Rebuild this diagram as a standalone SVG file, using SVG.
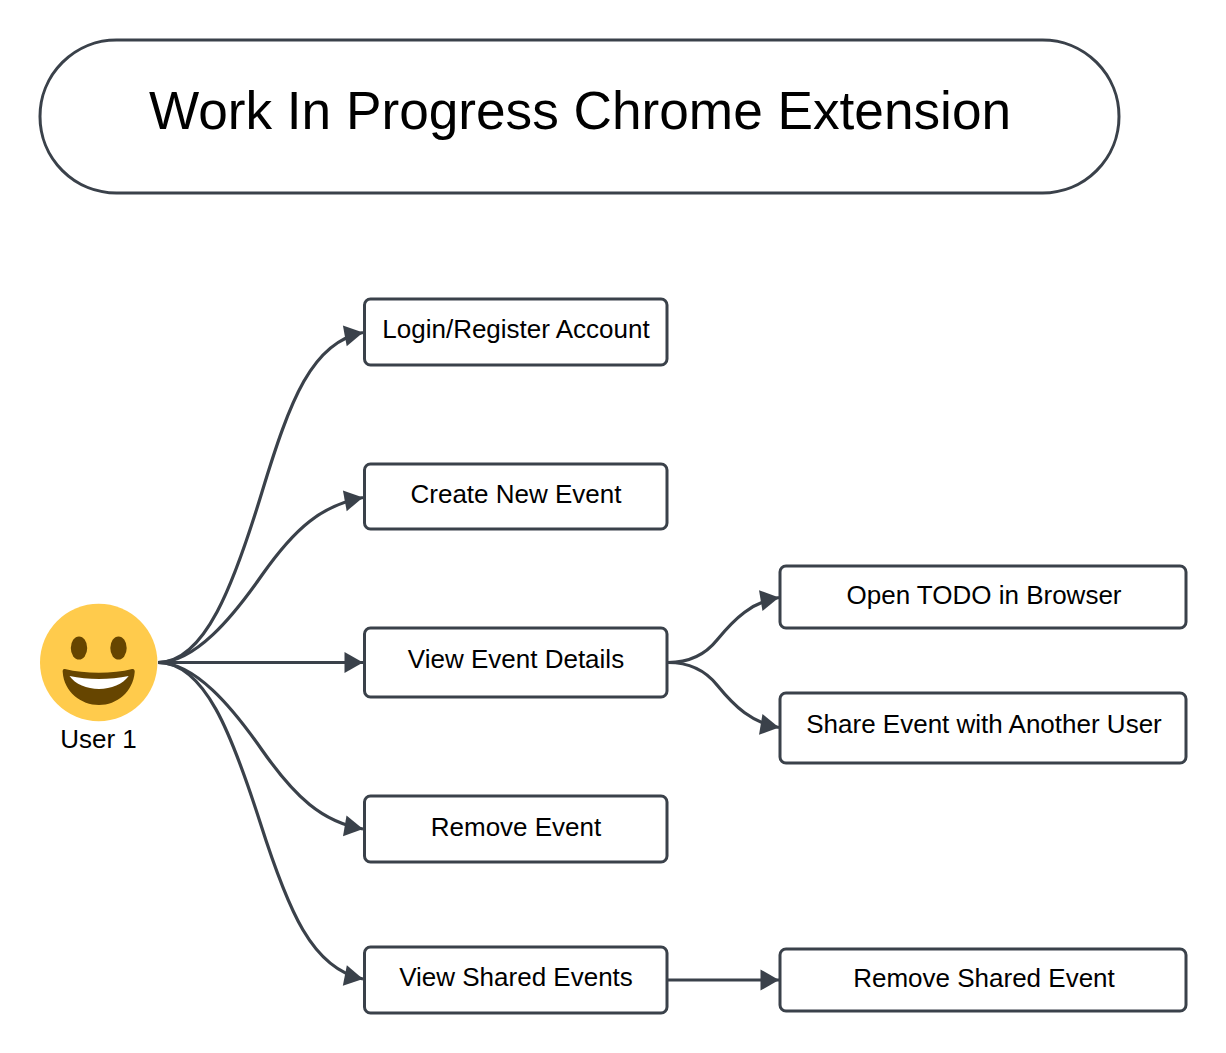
<svg xmlns="http://www.w3.org/2000/svg" width="1226" height="1053" viewBox="0 0 1226 1053">
<style>
text{font-family:"Liberation Sans",Arial,sans-serif;fill:#000;text-anchor:middle}
.n{font-size:26px}
.b{fill:#fff;stroke:#3a414a;stroke-width:3}
.c{fill:none;stroke:#3a414a;stroke-width:3.200}
</style>
<defs><marker id="a" markerUnits="userSpaceOnUse" markerWidth="24" markerHeight="24" refX="19" refY="12" orient="auto"><path d="M0.500 1.500L19 12L0.500 22.500Z" fill="#3a414a"/></marker></defs>
<rect width="1226" height="1053" fill="#fff"/>
<g id="title"><rect class="b" x="40" y="40" width="1079" height="153" rx="76.500"/><text x="580" y="129" font-size="53.200">Work In Progress Chrome Extension</text></g>
<g id="connectors">
<path class="c" marker-end="url(#a)" d="M158 662.500C205 662.500 234 584 262 492C290 400 312 342 363 332.500"/>
<path class="c" marker-end="url(#a)" d="M158 662.500C195 662.500 232 618 262 575C295 528 322 505 363 497.500"/>
<path class="c" marker-end="url(#a)" d="M158 662.500H363"/>
<path class="c" marker-end="url(#a)" d="M158 662.500C195 662.500 232 707 262 750C295 797 322 822 363 829"/>
<path class="c" marker-end="url(#a)" d="M158 662.500C205 662.500 232 735 260 822C288 910 312 969 363 979"/>
<path class="c" marker-end="url(#a)" d="M668 662.500C690 662.500 705 655 717 640C735 618 752 602 779 597.500"/>
<path class="c" marker-end="url(#a)" d="M668 662.500C690 662.500 705 670 717 685C735 707 752 723 779 727.500"/>
<path class="c" marker-end="url(#a)" d="M668 980H779"/>
</g>
<g id="user"><circle cx="98.700" cy="662.500" r="58.700" fill="#ffcb4c"/><ellipse cx="79" cy="648" rx="8.200" ry="11.500" fill="#664500"/><ellipse cx="118.500" cy="648" rx="8.200" ry="11.500" fill="#664500"/><path d="M65 669C85 674 113 674 132 669C134 668.500 135 670 134.700 672C133 692 117 705 99 705C81 705 64 692 62.700 672C62.500 670 63 668.500 65 669Z" fill="#664500"/><path d="M69.500 676C88 680 110 680 128.700 676C123 684 111 689 99 689C87 689 75 684 69.500 676Z" fill="#fff"/><text class="n" x="98.500" y="748">User 1</text></g>
<g id="n1"><rect class="b" x="364.500" y="299" width="302.500" height="66" rx="6"/><text class="n" x="516" y="338">Login/Register Account</text></g>
<g id="n2"><rect class="b" x="364.500" y="464" width="302.500" height="65" rx="6"/><text class="n" x="516" y="503">Create New Event</text></g>
<g id="n3"><rect class="b" x="364.500" y="628" width="302.500" height="69" rx="6"/><text class="n" x="516" y="668">View Event Details</text></g>
<g id="n4"><rect class="b" x="364.500" y="796" width="302.500" height="66" rx="6"/><text class="n" x="516" y="836">Remove Event</text></g>
<g id="n5"><rect class="b" x="364.500" y="947" width="302.500" height="66" rx="6"/><text class="n" x="516" y="986">View Shared Events</text></g>
<g id="n6"><rect class="b" x="780" y="566" width="406" height="62" rx="6"/><text class="n" x="984" y="604">Open TODO in Browser</text></g>
<g id="n7"><rect class="b" x="780" y="693" width="406" height="70" rx="6"/><text class="n" x="984" y="733">Share Event with Another User</text></g>
<g id="n8"><rect class="b" x="780" y="949" width="406" height="62" rx="6"/><text class="n" x="984" y="987">Remove Shared Event</text></g>
</svg>
